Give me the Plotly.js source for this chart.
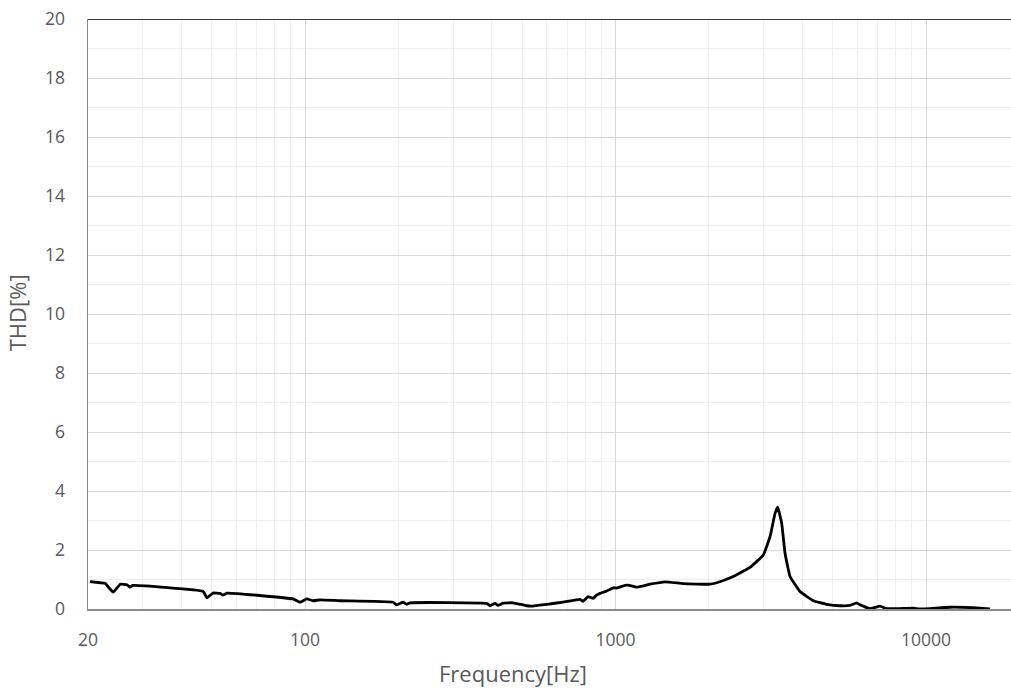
<!DOCTYPE html>
<html>
<head>
<meta charset="utf-8">
<script src="https://cdn.plot.ly/plotly-3.0.1.min.js"></script>
<style>html,body{margin:0;padding:0;background:#fff;overflow:hidden}</style>
</head>
<body>
<div id="chart" style="width:1011px;height:691px"></div>
<script>
// Frequency [Hz]
const freq = [20.3, 21.9, 22.7, 24.1, 25.4, 26.7, 27.3, 27.9, 46.9, 48.3, 50.5, 53.2, 54.4, 56.0,
  91.5, 96.4, 101.3, 106.1, 111.8, 129.7, 192, 197.4, 206.9, 212.6, 217.9, 384.8, 394.3, 409.2,
  418.4, 434.2, 467.7, 517.6, 542.3, 600.4, 677.5, 768.7, 785.9, 815.6, 846.4, 869.8, 891.5, 937,
  983.8, 1009, 1057, 1073, 1097, 1170, 1291, 1443, 1654, 2015, 2118, 2395, 2712, 2992, 3145, 3264,
  3330, 3430, 3515, 3648, 3929, 4337, 4788, 5284, 5691, 5983, 6131, 6601, 7111, 7471, 9100, 9565,
  11954, 14930, 16076];
// THD [%]
const thd = [0.93, 0.89, 0.87, 0.57, 0.84, 0.82, 0.74, 0.80, 0.60, 0.38, 0.54, 0.53, 0.47, 0.54,
  0.34, 0.23, 0.34, 0.28, 0.31, 0.28, 0.23, 0.14, 0.23, 0.16, 0.21, 0.19, 0.11, 0.19,
  0.12, 0.20, 0.21, 0.11, 0.10, 0.16, 0.23, 0.33, 0.26, 0.42, 0.36, 0.47, 0.53, 0.61,
  0.72, 0.71, 0.78, 0.80, 0.81, 0.74, 0.84, 0.92, 0.86, 0.84, 0.89, 1.10, 1.41, 1.83, 2.45, 3.24,
  3.45, 2.90, 1.89, 1.10, 0.59, 0.28, 0.16, 0.11, 0.12, 0.21, 0.14, 0.01, 0.10, 0.01, 0.03, 0.00,
  0.06, 0.03, 0.00];
// Axis labels
const xTickVals = [20, 100, 1000, 10000];
const xTickText = ['20', '100', '1000', '10000'];
const xTitle = 'Frequency[Hz]';
const yTitle = 'THD[%]';

const font = 'Open Sans, Liberation Sans, sans-serif';
const tickFont = {family: font, size: 17.5, color: '#595959'};

const data = [{
  x: freq, y: thd, type: 'scatter', mode: 'lines',
  line: {color: '#000000', width: 2.8, shape: 'spline', smoothing: 0.3},
  hoverinfo: 'skip'
}];

const layout = {
  width: 1011, height: 691,
  margin: {l: 88, r: 0, t: 19, b: 82},
  paper_bgcolor: '#ffffff', plot_bgcolor: '#ffffff',
  showlegend: false,
  xaxis: {
    type: 'log',
    range: [Math.log10(20), 4.2737],
    tickmode: 'array', tickvals: xTickVals, ticktext: xTickText,
    tickfont: tickFont, ticks: '', ticklabelstandoff: 14,
    showgrid: true, gridcolor: '#d9d9d9', gridwidth: 1,
    minor: {dtick: 'D1', showgrid: true, gridcolor: '#efefef', gridwidth: 1, ticks: ''},
    showline: true, linecolor: '#8c8c8c', linewidth: 1.5,
    zeroline: false, fixedrange: true
  },
  yaxis: {
    range: [0, 20], dtick: 2, tick0: 0,
    tickfont: tickFont, ticks: '', ticklabelstandoff: 18,
    showgrid: true, gridcolor: '#d9d9d9', gridwidth: 1,
    minor: {dtick: 1, showgrid: true, gridcolor: '#efefef', gridwidth: 1, ticks: ''},
    showline: true, linecolor: '#8c8c8c', linewidth: 1.5,
    zeroline: false, fixedrange: true
  },
  shapes: [{
    type: 'line', xref: 'paper', yref: 'y', x0: 0, x1: 1, y0: 20, y1: 20,
    line: {color: '#3a3a3a', width: 2}
  }],
  annotations: [
    {text: xTitle, xref: 'paper', yref: 'paper', x: 0.4605, y: -0.108,
     xanchor: 'center', yanchor: 'middle', showarrow: false,
     font: {family: font, size: 22, color: '#595959'}},
    {text: yTitle, xref: 'paper', yref: 'paper', x: -0.0775, y: 0.502,
     xanchor: 'center', yanchor: 'middle', showarrow: false, textangle: -90,
     font: {family: font, size: 22, color: '#595959'}}
  ]
};

Plotly.newPlot('chart', data, layout, {displayModeBar: false, staticPlot: true});
</script>
</body>
</html>
